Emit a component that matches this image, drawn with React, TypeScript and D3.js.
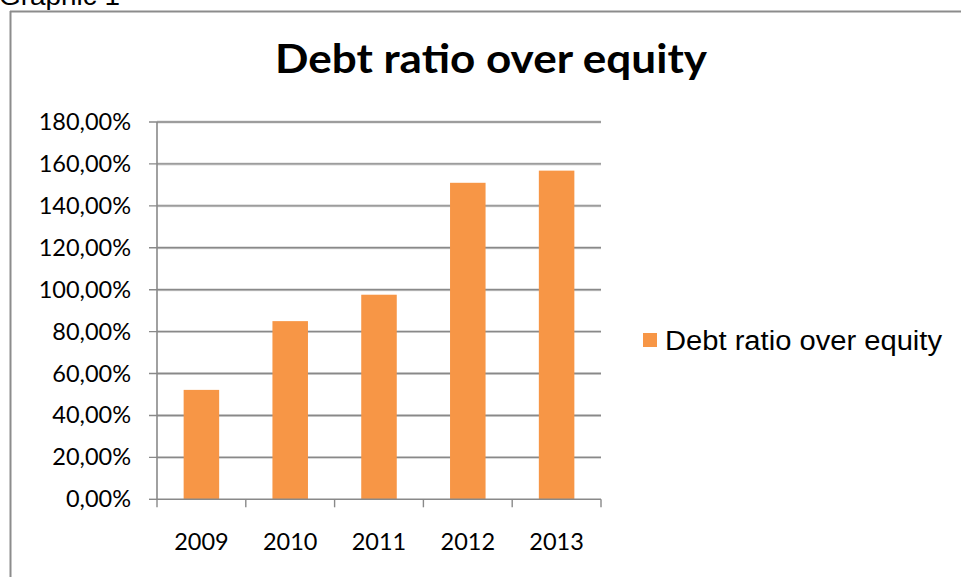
import React from "react";
import * as d3 from "d3";

const categories = ["2009", "2010", "2011", "2012", "2013"];
const values = [0.522, 0.85, 0.976, 1.51, 1.568];
const yTicks = [0, 0.2, 0.4, 0.6, 0.8, 1.0, 1.2, 1.4, 1.6, 1.8];
const seriesName = "Debt ratio over equity";
const titleText = "Debt ratio over equity";
const captionText = "Graphic 1";

const W = 961;
const H = 577;
const plotLeft = 157;
const plotRight = 601;
const plotTop = 122;
const plotBottom = 499.3;
const barColor = "#F79646";
const gridColor = "#898989";
const calibri = "Lato, 'Open Sans', sans-serif";
const arial = "'Liberation Sans', Arial, sans-serif";

const fmt = (v: number) => (v * 100).toFixed(2).replace(".", ",") + "%";

export default function App() {
  const x = d3.scaleBand<string>().domain(categories).range([plotLeft, plotRight]).paddingInner(0.6).paddingOuter(0.3);
  const xb = d3.scaleBand<string>().domain(categories).range([plotLeft, plotRight]);
  const y = d3.scaleLinear().domain([0, 1.8]).range([plotBottom, plotTop]);

  return (
    <svg width={W} height={H} style={{ position: "absolute", left: 0, top: 0, background: "#fff" }}>
      <rect x={0} y={0} width={W} height={H} fill="#fff" />
      <text x={-1} y={5} textLength={121} lengthAdjust="spacingAndGlyphs" fontFamily={arial} fontSize={26} fill="#000">{captionText}</text>
      <line x1={10.5} y1={11} x2={10.5} y2={H} stroke="#8c8c8c" strokeWidth={2} />
      <line x1={10} y1={11.5} x2={W} y2={11.5} stroke="#8c8c8c" strokeWidth={2} />
      <text x={275} y={73} textLength={432} lengthAdjust="spacingAndGlyphs" fontFamily={calibri} fontWeight={700} fontSize={40} fill="#000">{titleText}</text>
      {yTicks.map((t) => (
        <g key={t}>
          {t > 0 && <line x1={plotLeft} x2={plotRight} y1={y(t)} y2={y(t)} stroke="#d9d9d9" strokeWidth={3} />}
          <line x1={149} x2={t > 0 ? plotRight : plotLeft} y1={y(t)} y2={y(t)} stroke={gridColor} strokeWidth={1.4} />
          <text x={131} y={y(t) + 8} textAnchor="end" fontFamily={calibri} fontSize={23.5} fill="#000">{fmt(t)}</text>
        </g>
      ))}
      {categories.map((c, i) => (
        <rect key={c} x={x(c)} y={y(values[i])} width={x.bandwidth()} height={plotBottom - y(values[i])} fill={barColor} />
      ))}
      <line x1={plotLeft} x2={plotLeft} y1={plotTop} y2={plotBottom} stroke={gridColor} strokeWidth={1.6} />
      <line x1={plotLeft} x2={plotRight} y1={plotBottom} y2={plotBottom} stroke={gridColor} strokeWidth={1.6} />
      {categories.concat(["end"]).map((c, i) => {
        const px = plotLeft + i * xb.bandwidth();
        return <line key={"t" + i} x1={px} x2={px} y1={plotBottom} y2={plotBottom + 8} stroke={gridColor} strokeWidth={1.4} />;
      })}
      {categories.map((c) => (
        <text key={"l" + c} x={(xb(c) as number) + xb.bandwidth() / 2} y={550} textAnchor="middle" fontFamily={calibri} fontSize={23.5} fill="#000">{c}</text>
      ))}
      <rect x={643} y={333} width={14} height={14} fill={barColor} />
      <text x={665} y={350} textLength={277} lengthAdjust="spacingAndGlyphs" fontFamily={arial} fontSize={27} fill="#000">{seriesName}</text>
    </svg>
  );
}
